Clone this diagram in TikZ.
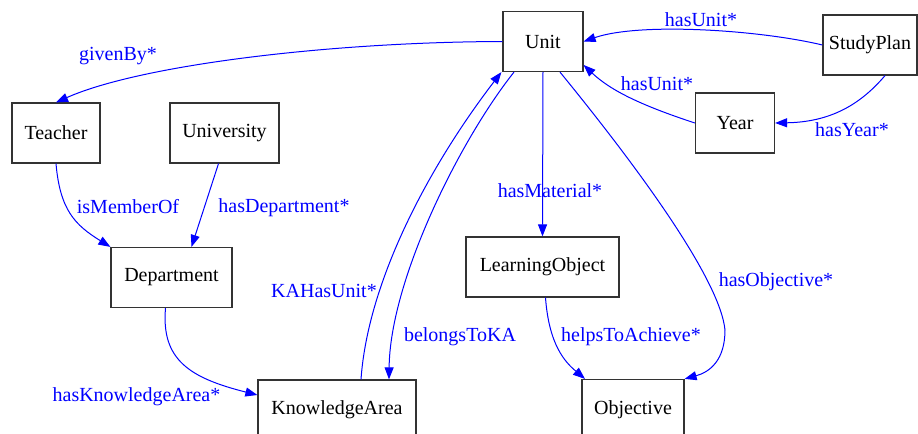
\documentclass[tikz,border=0pt]{standalone}
\usepackage{fontspec}
\setmainfont{Liberation Serif}
\usetikzlibrary{arrows.meta}
\tikzstyle{class} = [rectangle, draw=black!80, line width=0.6pt, minimum height=30pt, inner sep=2pt, font=\fontsize{10}{12}\selectfont]
\tikzstyle{connector} = [line width=0.5pt, blue, -{Triangle[length=6pt,width=4.5pt]}]
\tikzstyle{tag} = [text=blue, anchor=base, inner sep=0pt, font=\fontsize{10}{12}\selectfont]

\begin{document}
\begin{tikzpicture}[x=0.5pt, y=-0.5pt]
        \useasboundingbox (0,0) rectangle (918,434);
        \node (unit) [class, minimum width=40pt] at (543,41.5) {Unit};
        \node (study-plan) [class, minimum width=47pt] at (870,45) {StudyPlan};
        \node (year) [class, minimum width=39.5pt] at (735,123) {Year};
        \node (teacher) [class, minimum width=44pt] at (56,133) {Teacher};
        \node (university) [class, minimum width=54.5pt] at (224.5,133) {University};
        \node (department) [class, minimum width=60.5pt] at (171.5,277.5) {Department};
        \node (learning-object) [class, minimum width=76.5pt] at (542.5,267) {LearningObject};
        \node (knowledge-area) [class, minimum width=79pt] at (337,410) {KnowledgeArea};
        \node (objective) [class, minimum width=51pt] at (633,409.5) {Objective};
        \draw [connector] (unit.west) node (label-given) [tag] at (118,60) {givenBy*} .. controls (330,42) and (140,65) .. (teacher.north);
        \draw [connector] (study-plan.west) node (label-unit-1) [tag] at (701,26.5) {hasUnit*} .. controls (760,30) and (640,22) .. (unit.east);
        \draw [connector] (year.west) node (label-unit-2) [tag] at (657,90) {hasUnit*} .. controls (640,105) and (610,90) .. (unit.-30);
        \draw [connector] ([xshift=7.5pt]study-plan.south) node (label-year) [tag] at (852,136) {hasYear*} .. controls (860,105) and (830,122) .. (year.east);
        \draw [connector] (teacher.south) node (label-member) [tag] at (128,213) {isMemberOf} .. controls (60,210) and (75,225) .. (department.north west);
        \draw [connector] ([xshift=-3pt]university.south) node (label-dept) [tag] at (284,212) {hasDepartment*} -- ([xshift=10pt]department.north);
        \draw [connector] ([xshift=-3pt]department.south) node (label-area) [tag] at (136.5,401) {hasKnowledgeArea*} .. controls (161,360) and (190,378) .. ([yshift=7.5pt]knowledge-area.west);
        \draw [connector] ([xshift=12pt]knowledge-area.north) node (label-ka-unit) [tag] at (324,297) {KAHasUnit*} .. controls (368,280) and (430,165) .. ([xshift=-0.5pt]unit.south west);
        \draw [connector] ([xshift=-14.5pt]unit.south) node (label-belongs) [tag] at (460,341) {belongsToKA} .. controls (460,140) and (390,280) .. ([xshift=26pt]knowledge-area.north);
        \draw [connector] (unit.south) node (label-material) [tag] at (550,197) {hasMaterial*} -- (learning-object.north);
        \draw [connector] ([xshift=1.5pt]learning-object.south) node (label-helps) [tag] at (631,341) {helpsToAchieve*} .. controls (549,345) and (565,362) .. ([xshift=-24pt]objective.north);
        \draw [connector] ([xshift=8.5pt]unit.south) node (label-objective) [tag] at (776,286) {hasObjective*} .. controls (640,170) and (720,280) .. (725,330) .. controls (725,360) and (710,372) .. (objective.north east);
    \end{tikzpicture}
\end{document}
